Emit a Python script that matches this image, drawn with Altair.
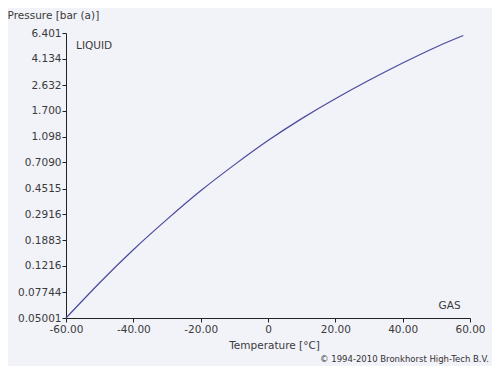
import altair as alt
import pandas as pd

# Vapour pressure curve
temperature = [-60, -50, -40, -30, -20, -10, 0, 10, 20, 30, 40, 50, 58]
pressure = [0.05001, 0.0912, 0.160, 0.268, 0.436, 0.678, 1.025, 1.49, 2.09, 2.86, 3.84, 5.05, 6.13]

y_ticks = [0.05001, 0.07744, 0.1216, 0.1883, 0.2916, 0.4515, 0.7090, 1.098, 1.700, 2.632, 4.134, 6.401]
x_ticks = [-60, -40, -20, 0, 20, 40, 60]

region_labels = ["LIQUID", "GAS"]
region_T = [-57.0, 57.2]
region_P = [5.12, 0.0616]
region_align = ["left", "right"]

credit = "© 1994-2010 Bronkhorst High-Tech B.V."

FONT = "DejaVu Sans"
TXT = "#3a3a3a"

df = pd.DataFrame({"T": temperature, "P": pressure})
lab = pd.DataFrame({"label": region_labels, "T": region_T, "P": region_P, "align": region_align})

xscale = alt.Scale(domain=[-60, 60], nice=False, zero=False)
yscale = alt.Scale(type="log", domain=[0.05001, 6.401], nice=False, zero=False)

x_axis = alt.Axis(
    values=x_ticks, grid=False, tickSize=4, tickColor="#222", domainColor="#222",
    labelFont=FONT, labelFontSize=10.5, labelColor=TXT, labelPadding=2,
    labelExpr="datum.value == 0 ? '0' : (datum.value < 0 ? '-' + format(-datum.value, '.2f') : format(datum.value, '.2f'))",
    title="Temperature [°C]", titleFont=FONT, titleFontSize=10.5, titleFontWeight="normal",
    titleColor=TXT, titleX=208, titleY=27, titleBaseline="middle", titleAlign="center",
    labelFlush=False,
)
y_axis = alt.Axis(
    values=y_ticks, grid=False, tickSize=4, tickColor="#222", domainColor="#222",
    labelFont=FONT, labelFontSize=10.5, labelColor=TXT, labelPadding=1, format=".4r",
    title="Pressure [bar (a)]", titleFont=FONT, titleFontSize=10.5, titleFontWeight="normal",
    titleColor=TXT, titleAngle=0, titleAlign="left", titleBaseline="middle",
    titleX=-59, titleY=-17.5, labelFlush=False,
)

line = alt.Chart(df).mark_line(color="#4a4a9e", strokeWidth=1.2, interpolate="natural").encode(
    x=alt.X("T:Q", scale=xscale, axis=x_axis),
    y=alt.Y("P:Q", scale=yscale, axis=y_axis),
)

left_lab = alt.Chart(lab[lab["align"] == "left"]).mark_text(
    align="left", baseline="middle", font=FONT, fontSize=10.5, color=TXT
).encode(x=alt.X("T:Q", scale=xscale), y=alt.Y("P:Q", scale=yscale), text="label:N")

right_lab = alt.Chart(lab[lab["align"] == "right"]).mark_text(
    align="right", baseline="middle", font=FONT, fontSize=10.5, color=TXT
).encode(x=alt.X("T:Q", scale=xscale), y=alt.Y("P:Q", scale=yscale), text="label:N")

credit_txt = alt.Chart(pd.DataFrame({"c": [credit]})).mark_text(
    align="right", baseline="middle", font=FONT, fontSize=8.5, color="#333", clip=False
).encode(x=alt.value(423), y=alt.value(326), text="c:N")

chart = alt.layer(line, left_lab, right_lab, credit_txt).properties(
    width=404, height=285,
    autosize=alt.AutoSizeParams(type="none"),
    padding={"left": 58, "top": 25, "right": 22, "bottom": 48},
    background="#f2f2f9",
).configure_view(stroke=None)

chart.save("out.html", embed_options={"renderer": "svg", "actions": False})
